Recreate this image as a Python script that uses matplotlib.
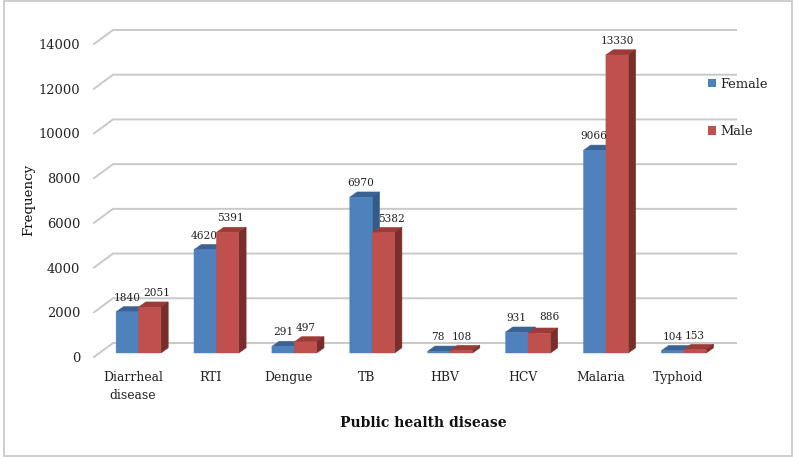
import matplotlib
matplotlib.use("Agg")
import matplotlib.pyplot as plt
from matplotlib.patches import Polygon, Rectangle

categories = ["Diarrheal\ndisease", "RTI", "Dengue", "TB", "HBV", "HCV", "Malaria", "Typhoid"]
female = [1840, 4620, 291, 6970, 78, 931, 9066, 104]
male = [2051, 5391, 497, 5382, 108, 886, 13330, 153]
yticks = [0, 2000, 4000, 6000, 8000, 10000, 12000, 14000]

W, H = 800, 457
SERIF = "DejaVu Serif"
BLUE, BLUE_TOP, BLUE_SIDE = "#4F81BD", "#3A6394", "#345A88"
RED, RED_TOP, RED_SIDE = "#C0504D", "#9C3B38", "#7A2E2C"
GRID = "#C9C9C9"

# front plane of the chart in pixels
PX_L, PX_R, PX_B, PX_T = 94, 717, 357, 44
CAT0, CAT_STEP = 138.5, 77.9
BAR_W = 22.4 / CAT_STEP

fig = plt.figure(figsize=(W / 100, H / 100), dpi=100, facecolor="white")
ax = fig.add_axes([PX_L / W, 1 - PX_B / H, (PX_R - PX_L) / W, (PX_B - PX_T) / H])
ax.set_xlim((PX_L - CAT0) / CAT_STEP, (PX_R - CAT0) / CAT_STEP)
ax.set_ylim(0, 14000)
ax.patch.set_visible(False)
for s in ax.spines.values():
    s.set_visible(False)

ux = 1 / CAT_STEP                  # data units per pixel, x
uy = 14000 / (PX_B - PX_T)         # data units per pixel, y
x0, x1 = ax.get_xlim()

# walls: gridlines run from the front plane to the back wall
for v in yticks:
    ax.plot([x0, x0 + 19 * ux, x1 + 19 * ux], [v, v + 14 * uy, v + 14 * uy],
            color=GRID, lw=1.4, clip_on=False, zorder=1, solid_joinstyle="miter")

BASE = 4 * uy
DX, DY = 7.3 * ux, 5.2 * uy


def bar3d(x, v, front, top, side, z):
    y0, y1 = BASE, BASE + v
    xr = x + BAR_W
    ax.add_patch(Polygon([(x, y1), (xr, y1), (xr + DX, y1 + DY), (x + DX, y1 + DY)],
                         fc=top, ec=top, lw=0.4, clip_on=False, zorder=z))
    ax.add_patch(Polygon([(xr, y0), (xr + DX, y0 + DY), (xr + DX, y1 + DY), (xr, y1)],
                         fc=side, ec=side, lw=0.4, clip_on=False, zorder=z))
    bars = ax.bar(x, v, BAR_W, bottom=BASE, align="edge", color=front, ec=front, lw=0.3,
                  clip_on=False, zorder=z + 0.1)
    for b in bars:
        b.set_snap(False)


label_nudge_f = [0, -1, 0, 0, -1, 0, -1, 0]
label_nudge_m = [7, 3, 0, 8, 0, 10, 0, 0]
label_lift_m = [14, 14, 14, 14, 14, 16, 14, 14]
for i in range(len(categories)):
    bar3d(i - BAR_W, female[i], BLUE, BLUE_TOP, BLUE_SIDE, 2 + i * 0.01)
    bar3d(i, male[i], RED, RED_TOP, RED_SIDE, 3 + i * 0.01)
    ax.text(i - BAR_W / 2 + label_nudge_f[i] * ux, BASE + female[i] + 14 * uy, str(female[i]),
            ha="center", va="center", fontsize=7.6, family=SERIF, color="#222222", zorder=6)
    ax.text(i + BAR_W / 2 + label_nudge_m[i] * ux, BASE + male[i] + label_lift_m[i] * uy, str(male[i]),
            ha="center", va="center", fontsize=7.6, family=SERIF, color="#222222", zorder=6)

ax.set_yticks(yticks)
ax.set_yticklabels([str(v) for v in yticks], family=SERIF, fontsize=9.4, color="#222222")
ax.set_xticks([i - 5.5 * ux for i in range(len(categories))])
ax.set_xticklabels(categories, family=SERIF, fontsize=8.9, color="#222222", linespacing=1.5)
ax.tick_params(axis="y", length=0, pad=10)
ax.tick_params(axis="x", length=0, pad=10)

ax.set_xlabel("Public health disease", family=SERIF, fontsize=10, fontweight="bold", color="#111111")
ax.xaxis.set_label_coords((423 - PX_L) / (PX_R - PX_L), -(423 - PX_B) / (PX_B - PX_T))
ax.xaxis.label.set_verticalalignment("center")
ax.set_ylabel("Frequency", family=SERIF, fontsize=9.6, color="#111111")
ax.yaxis.set_label_coords((29 - PX_L) / (PX_R - PX_L), (PX_B - 200) / (PX_B - PX_T))
ax.yaxis.label.set_verticalalignment("center")

handles = [Rectangle((0, 0), 1, 1, fc=BLUE), Rectangle((0, 0), 1, 1, fc=RED)]
leg = ax.legend(handles, ["Female", "Male"], loc="center left",
                bbox_to_anchor=(696 / W, 1 - 108 / H), bbox_transform=fig.transFigure,
                frameon=False, prop={"family": SERIF, "size": 9.4},
                labelspacing=2.67, handlelength=0.65, handleheight=0.65, handletextpad=0.3)
for t in leg.get_texts():
    t.set_color("#222222")

fig.add_artist(Rectangle((3.5 / W, 1 - 456 / H), 788.5 / W, 455 / H, transform=fig.transFigure,
                         fc="none", ec="#C6C6C6", lw=1.2))

fig.savefig("out.png", dpi=100)
